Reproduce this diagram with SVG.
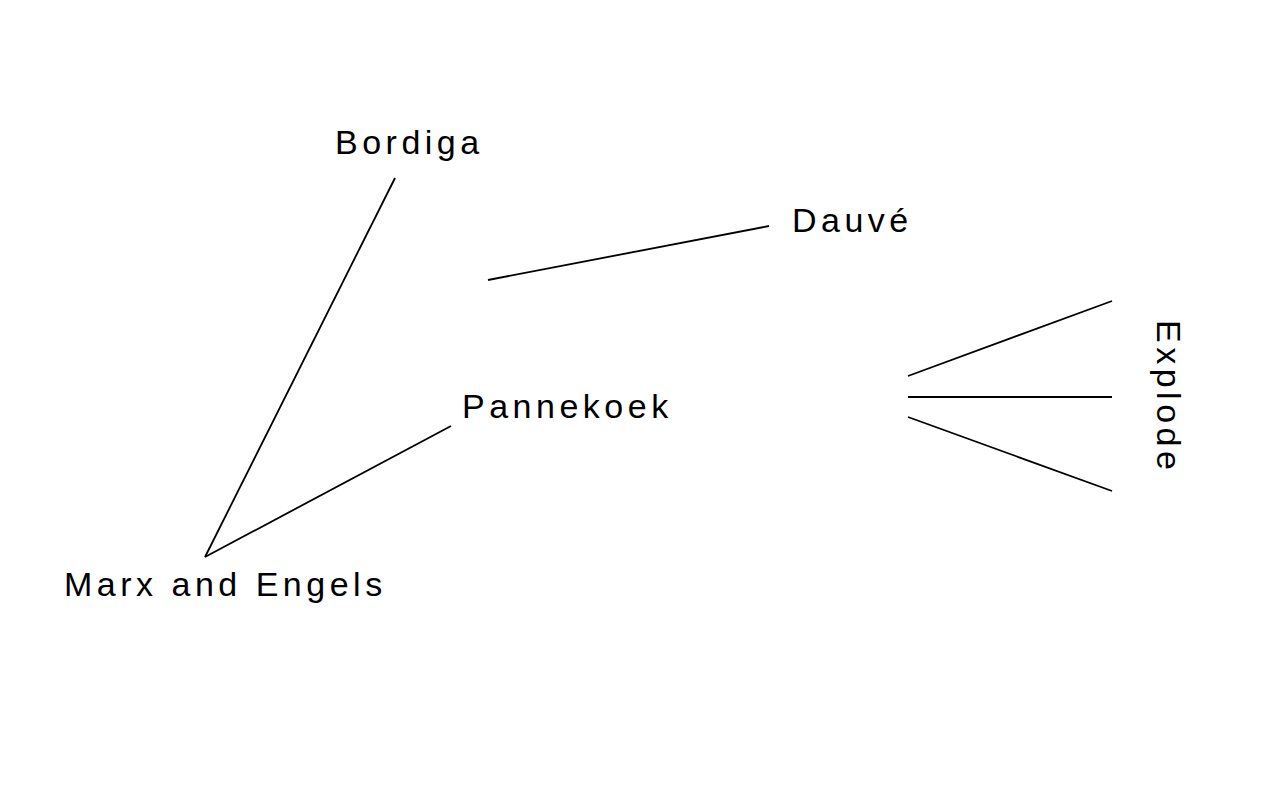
<svg xmlns="http://www.w3.org/2000/svg" width="1280" height="800" viewBox="0 0 1280 800">
<style>
.lbl{font-family:"Liberation Sans",Arial,Helvetica,sans-serif;font-size:34px;letter-spacing:4.5px;fill:#000}
.ln{stroke:#000;stroke-width:1.8;fill:none}
</style>
<rect width="1280" height="800" fill="#fff"/>
<g id="connectors">
<line class="ln" x1="395" y1="178" x2="205" y2="557"/>
<line class="ln" x1="451" y1="426" x2="205" y2="557"/>
<line class="ln" x1="488" y1="280" x2="769" y2="226"/>
<line class="ln" x1="908" y1="376" x2="1112" y2="301"/>
<line class="ln" x1="908" y1="397" x2="1112" y2="397"/>
<line class="ln" x1="908" y1="417" x2="1112" y2="491"/>
</g>
<g id="bordiga"><text class="lbl" x="335" y="154">Bordiga</text></g>
<g id="dauve"><text class="lbl" x="792" y="232">Dauvé</text></g>
<g id="pannekoek"><text class="lbl" x="462" y="418">Pannekoek</text></g>
<g id="marx"><text class="lbl" x="64" y="596">Marx and Engels</text></g>
<g id="explode"><text class="lbl" transform="translate(1157,320) rotate(90)">Explode</text></g>
</svg>
